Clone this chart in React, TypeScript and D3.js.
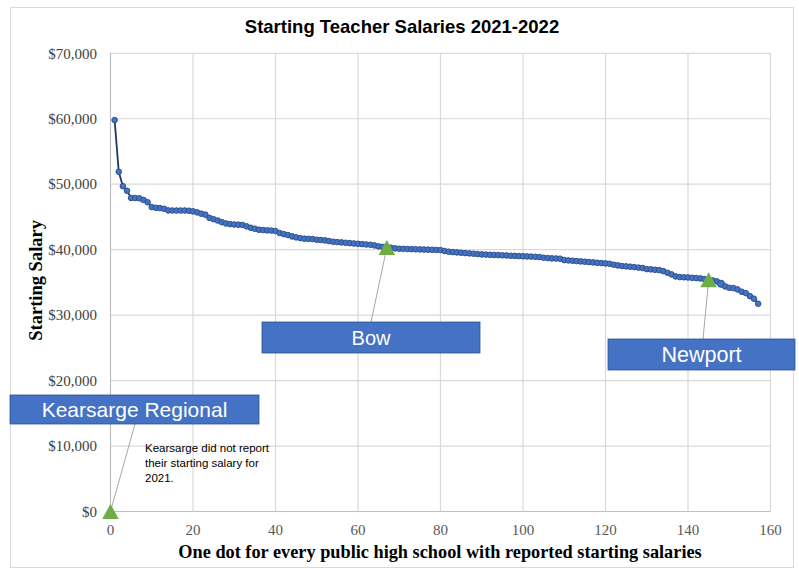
import React, { useMemo } from "react";
import * as d3 from "d3";

// starting salary per school, sorted high to low (school #1 .. #157)
const salaries: number[] = [
  59800, 51900, 49700, 49000, 47900, 47900, 47850, 47600, 47250, 46500,
  46400, 46350, 46250, 46000, 45980, 45980, 45980, 45980, 45950, 45850,
  45700, 45500, 45350, 44850, 44650, 44450, 44200, 44000, 43900, 43850,
  43820, 43780, 43560, 43350, 43200, 43050, 43000, 42950, 42920, 42850,
  42550, 42380, 42230, 42030, 41880, 41770, 41680, 41650, 41620, 41520,
  41470, 41420, 41310, 41210, 41160, 41110, 41050, 41000, 40950, 40900,
  40850, 40800, 40750, 40650, 40500, 40420, 40350, 40300, 40200, 40150,
  40130, 40100, 40080, 40060, 40040, 40020, 40000, 39980, 39960, 39940,
  39790, 39690, 39630, 39580, 39530, 39480, 39430, 39380, 39330, 39280,
  39250, 39220, 39190, 39170, 39140, 39120, 39070, 39050, 39020, 39000,
  38970, 38940, 38900, 38870, 38770, 38720, 38670, 38650, 38620, 38410,
  38360, 38310, 38260, 38210, 38160, 38110, 38060, 38000, 37950, 37900,
  37850, 37700, 37600, 37500, 37450, 37400, 37340, 37260, 37190, 37030,
  36990, 36930, 36880, 36730, 36480, 36220, 35920, 35810, 35780, 35760,
  35700, 35660, 35610, 35500, 35400, 35300, 35150, 34790, 34390, 34180,
  34130, 33930, 33580, 33370, 32900, 32510, 31740,
];
const bigDotIndex = 148;

// highlighted schools (green triangles)
const highlightNames = ["Kearsarge Regional", "Bow", "Newport"];
const highlightRank = [0, 67, 145];
const highlightSalary = [0, 40350, 35400];

const xTicks = [0, 20, 40, 60, 80, 100, 120, 140, 160];
const yTicks = [0, 10000, 20000, 30000, 40000, 50000, 60000, 70000];

const title = "Starting Teacher Salaries 2021-2022";
const xTitle = "One dot for every public high school with reported starting salaries";
const yTitle = "Starting Salary";
const noteLines = ["Kearsarge did not report", "their starting salary for", "2021."];

const W = 799;
const H = 569;
const serif = "'Liberation Serif', 'Times New Roman', serif";
const sans = "'Liberation Sans', Arial, sans-serif";

// label boxes, plus where each leader line meets its box
const boxes = [
  { x: 10, y: 395, w: 249, h: 29, fs: 21, ax: 135, ay: 424 },
  { x: 262, y: 322, w: 218, h: 31, fs: 20, ax: 371, ay: 322 },
  { x: 608, y: 339, w: 187, h: 31, fs: 21.5, ax: 703, ay: 339 },
];

export default function App() {
  const x = useMemo(() => d3.scaleLinear().domain([0, 160]).range([110.5, 770.5]), []);
  const y = useMemo(() => d3.scaleLinear().domain([0, 70000]).range([511.5, 53.3]), []);

  const line = d3
    .line<number>()
    .x((_, i) => x(i + 1))
    .y((d) => y(d));

  const fmt = d3.format(",");

  const tri = (cx: number, cy: number) =>
    `M${cx},${cy - 7.5}L${cx + 8.3},${cy + 7.5}L${cx - 8.3},${cy + 7.5}Z`;

  return (
    <div style={{ position: "absolute", left: 0, top: 0 }}>
      <svg width={W} height={H} style={{ display: "block", background: "#fff" }}>
        <rect x={10.5} y={7.5} width={783} height={560} fill="#fff" stroke="#d9d9d9" />

        {/* grid */}
        {yTicks.map((t) => (
          <line key={"gy" + t} x1={x(0)} x2={x(160)} y1={y(t)} y2={y(t)}
            stroke={t === 0 ? "#bfbfbf" : "#d9d9d9"} strokeWidth={1.2} />
        ))}
        {xTicks.map((t) => (
          <line key={"gx" + t} x1={x(t)} x2={x(t)} y1={y(70000)} y2={y(0)}
            stroke={t === 0 ? "#bfbfbf" : "#d9d9d9"} strokeWidth={1.2} />
        ))}

        {/* tick labels */}
        {yTicks.map((t) => (
          <text key={"ly" + t} x={97} y={y(t)} dy="0.35em" textAnchor="end"
            fontFamily={serif} fontSize={15} fill="#404040">
            {"$" + fmt(t)}
          </text>
        ))}
        {xTicks.map((t) => (
          <text key={"lx" + t} x={x(t)} y={535} textAnchor="middle"
            fontFamily={serif} fontSize={15} fill="#595959">
            {t}
          </text>
        ))}

        {/* series */}
        <path d={line(salaries) || ""} fill="none" stroke="#1f3864" strokeWidth={1.8} />
        {salaries.map((v, i) => (
          <circle key={"d" + i} cx={x(i + 1)} cy={y(v)} r={i + 1 === bigDotIndex ? 3.6 : 2.8}
            fill="#4472c4" stroke="#2f528f" strokeWidth={1} />
        ))}

        {/* callout leaders */}
        {highlightNames.map((n, i) => (
          <line key={"c" + n} x1={x(highlightRank[i])} y1={y(highlightSalary[i])}
            x2={boxes[i].ax} y2={boxes[i].ay} stroke="#a6a6a6" strokeWidth={1} />
        ))}
        {highlightNames.map((n, i) => (
          <path key={"t" + n} d={tri(x(highlightRank[i]), y(highlightSalary[i]))} fill="#70ad47" />
        ))}

        {/* label boxes */}
        {highlightNames.map((n, i) => (
          <g key={"b" + n}>
            <rect x={boxes[i].x} y={boxes[i].y} width={boxes[i].w} height={boxes[i].h}
              fill="#4472c4" stroke="#2f528f" strokeWidth={0.8} />
            <text x={boxes[i].x + boxes[i].w / 2} y={boxes[i].y + boxes[i].h / 2} dy="0.36em"
              textAnchor="middle" fontFamily={sans} fontSize={boxes[i].fs} fill="#fff">
              {n}
            </text>
          </g>
        ))}

        {/* note */}
        {noteLines.map((l, i) => (
          <text key={"n" + i} x={145} y={452 + i * 15} fontFamily={sans} fontSize={11.5} fill="#000">
            {l}
          </text>
        ))}

        {/* titles */}
        <text x={402} y={33} textAnchor="middle" fontFamily={sans} fontSize={18.5}
          fontWeight="bold" fill="#000">
          {title}
        </text>
        <text x={440} y={558} textAnchor="middle" fontFamily={serif} fontSize={18.3}
          fontWeight="bold" fill="#000">
          {xTitle}
        </text>
        <text transform={`translate(42,${y(35000) - 2}) rotate(-90)`} textAnchor="middle"
          fontFamily={serif} fontSize={18.5} fontWeight="bold" fill="#000">
          {yTitle}
        </text>
      </svg>
    </div>
  );
}
